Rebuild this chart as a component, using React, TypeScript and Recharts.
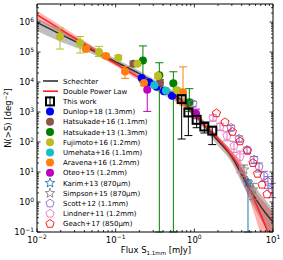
import React from "react";
import { ComposedChart, XAxis, YAxis, Area, Line, Scatter, ErrorBar } from "recharts";

const W = 283;
const H = 260;
const FONT = "DejaVu Sans, sans-serif";

// model curves
const curveFlux = [0.01, 0.02, 0.05, 0.1, 0.2, 0.4, 0.7, 1, 1.5, 2, 3, 4, 5, 6, 7, 8, 9, 10];
const schechterN = [9.7e5, 3.9e5, 1.17e5, 4.75e4, 1.9e4, 6.5e3, 2.4e3, 880, 257, 110, 32, 8.1, 2.8, 1.29, 0.7, 0.44, 0.3, 0.22];
const schechterLo = [5.0e5, 2.2e5, 8.8e4, 3.8e4, 1.5e4, 5.1e3, 1.75e3, 650, 190, 75, 20, 4.4, 1.4, 0.55, 0.26, 0.14, 0.08, 0.06];
const schechterHi = [1.3e6, 5.5e5, 1.6e5, 6.0e4, 2.4e4, 8.1e3, 3.2e3, 1.2e3, 350, 150, 48, 14, 5.5, 3.0, 1.8, 1.2, 0.8, 0.55];
const dplN = [1.75e6, 5.7e5, 1.28e5, 4.1e4, 1.37e4, 4.75e3, 2.0e3, 880, 277, 129, 35, 11, 3.0, 0.95, 0.38, 0.16, 0.07, 0.03];
const dplLo = [1.2e6, 4.4e5, 1.02e5, 3.4e4, 1.1e4, 3.8e3, 1.6e3, 700, 220, 103, 24, 5.5, 1.2, 0.3, 0.08, 0.04, 0.02, 0.01];
const dplHi = [2.4e6, 7.5e5, 1.6e5, 4.9e4, 1.7e4, 6.0e3, 2.6e3, 1.1e3, 350, 162, 51, 20, 5.0, 2.2, 1.3, 0.9, 0.6, 0.45];

// number counts
const thisWorkFlux = [0.69, 0.84, 1.07, 1.34, 1.69];
const thisWorkN = [2700, 970, 550, 330, 240];
const thisWorkLo = [126, 164, 300, 200, 82];
const thisWorkHi = [3500, 1250, 700, 420, 320];

const dunlopFlux = [0.214, 0.265, 0.33, 0.41, 0.52];
const dunlopN = [1.36e4, 9.8e3, 7.0e3, 4.9e3, 3.5e3];

const hatsu16Flux = [0.168, 0.366];
const hatsu16N = [4.1e4, 9.7e3];
const hatsu16Lo = [3.3e4, 7.8e3];
const hatsu16Hi = [5.0e4, 1.2e4];

const hatsu13Flux = [0.222, 0.359, 0.541, 0.863];
const hatsu13N = [5.2e4, 1.7e4, 9.1e3, 2.1e3];
const hatsu13Lo = [1.0e4, 0.1, 0.1, 1.05e3];
const hatsu13Hi = [1.6e5, 4.4e4, 2.2e4, 6.0e3];

const fujimotoFlux = [0.0196, 0.0353, 0.0614, 0.108, 0.189, 0.345, 0.603];
const fujimotoN = [3.3e5, 2.0e5, 1.0e5, 6.5e4, 4.1e4, 1.6e4, 5.3e3];
const fujimotoLo = [1.26e5, 9.3e4, 7.1e4, 5.5e4, 3.5e4, 1.3e4, 4.5e3];
const fujimotoHi = [6.3e5, 3.3e5, 1.55e5, 7.6e4, 4.8e4, 1.95e4, 6.2e3];

const umehataFlux = [0.31, 0.436];
const umehataN = [7.8e3, 5.1e3];

const aravenaFlux = [0.042, 0.0753, 0.1316, 0.229, 0.718];
const aravenaN = [1.26e5, 7.4e4, 2.25e4, 9.3e3, 4.6e3];
const aravenaLo = [1.1e5, 6.5e4, 1.33e4, 7.5e3, 1.7e3];
const aravenaHi = [1.45e5, 8.5e4, 3.3e4, 1.15e4, 3.2e4];

const oteoFlux = [0.252, 1.05];
const oteoN = [5.5e3, 900];
const oteoLo = [1.05e3, 600];
const oteoHi = [1.0e4, 1.25e3];

const karimFlux = [4.81];
const karimN = [4.4];
const karimLo = [0.1];
const karimHi = [5.5];

const simpsonFlux = [4.28, 5.57];
const simpsonN = [12, 2.6];
const simpsonLo = [7, 1.2];
const simpsonHi = [17, 4.2];

const scottFlux = [0.96, 2.92, 3.7, 4.67, 5.73, 6.64, 7.68, 8.63, 9.7];
const scottN = [1900, 300, 129, 55, 26, 15, 7.5, 4.75, 2.6];
const scottLo = [1500, 240, 100, 42, 19, 10, 4.8, 2.8, 1.4];
const scottHi = [2300, 360, 160, 68, 33, 20, 10.5, 7, 4.2];

const lindnerFlux = [1.73, 2.12, 2.6, 3.19, 3.8];
const lindnerN = [646, 324, 162, 75, 32];
const lindnerLo = [500, 240, 110, 45, 9.5];
const lindnerHi = [800, 420, 220, 105, 50];

const geachFlux = [1.91, 2.45, 3.05, 3.8, 4.74, 5.57, 6.35, 7.24, 8.39];
const geachN = [912, 457, 220, 106, 51, 20, 8.8, 3.8, 1.8];

// axis ticks
const xDecades = [-2, -1, 0, 1];
const yDecades = [-1, 0, 1, 2, 3, 4, 5, 6];
const minorSteps = [2, 3, 4, 5, 6, 7, 8, 9];

const buildTicks = (decades: number[], max: number) => {
  const out: number[] = [];
  decades.forEach((d) => {
    const base = Math.pow(10, d);
    out.push(base);
    minorSteps.forEach((m) => {
      if (m * base < max * 0.999) out.push(m * base);
    });
  });
  return out;
};
const xTicks = buildTicks(xDecades, 10);
const yTicks = buildTicks(yDecades, 4e6);

const curveData = curveFlux.map((f, i) => ({
  flux: f,
  sch: schechterN[i],
  schBand: [schechterLo[i], schechterHi[i]],
  dpl: dplN[i],
  dplBand: [dplLo[i], dplHi[i]],
}));

const toPoints = (flux: number[], n: number[], lo?: number[], hi?: number[]) =>
  flux.map((f, i) => ({
    flux: f,
    n: n[i],
    err: [lo ? n[i] - lo[i] : 0, hi ? hi[i] - n[i] : 0],
  }));

const starPath = (cx: number, cy: number, R: number, r: number) => {
  let d = "";
  for (let i = 0; i < 10; i++) {
    const rad = i % 2 === 0 ? R : r;
    const a = -Math.PI / 2 + (i * Math.PI) / 5;
    d += (i ? "L" : "M") + (cx + rad * Math.cos(a)).toFixed(2) + "," + (cy + rad * Math.sin(a)).toFixed(2);
  }
  return d + "Z";
};

const pentaPath = (cx: number, cy: number, R: number) => {
  let d = "";
  for (let i = 0; i < 5; i++) {
    const a = -Math.PI / 2 + (i * 2 * Math.PI) / 5;
    d += (i ? "L" : "M") + (cx + R * Math.cos(a)).toFixed(2) + "," + (cy + R * Math.sin(a)).toFixed(2);
  }
  return d + "Z";
};

function Marker({ kind, color, cx, cy }: any) {
  if (cx == null || cy == null) return null;
  switch (kind) {
    case "square":
      return <rect x={cx - 4} y={cy - 4} width={8} height={8} fill="none" stroke={color} strokeWidth={2} />;
    case "star":
      return <path d={starPath(cx, cy, 5, 2.1)} fill="none" stroke={color} strokeWidth={0.9} />;
    case "pentagon":
      return <path d={pentaPath(cx, cy, 4.3)} fill="none" stroke={color} strokeWidth={0.9} />;
    default:
      return <circle cx={cx} cy={cy} r={4} fill={color} />;
  }
}

const series = [
  { name: "This work", kind: "square", color: "#000000", data: toPoints(thisWorkFlux, thisWorkN, thisWorkLo, thisWorkHi), err: true },
  { name: "Dunlop+18 (1.3mm)", kind: "circle", color: "#0000ff", data: toPoints(dunlopFlux, dunlopN), err: false },
  { name: "Hatsukade+16 (1.1mm)", kind: "circle", color: "#8c564b", data: toPoints(hatsu16Flux, hatsu16N, hatsu16Lo, hatsu16Hi), err: true },
  { name: "Hatsukade+13 (1.3mm)", kind: "circle", color: "#008000", data: toPoints(hatsu13Flux, hatsu13N, hatsu13Lo, hatsu13Hi), err: true },
  { name: "Fujimoto+16 (1.2mm)", kind: "circle", color: "#bcbd22", data: toPoints(fujimotoFlux, fujimotoN, fujimotoLo, fujimotoHi), err: true },
  { name: "Umehata+16 (1.1mm)", kind: "circle", color: "#17becf", data: toPoints(umehataFlux, umehataN), err: false },
  { name: "Aravena+16 (1.2mm)", kind: "circle", color: "#ff7f0e", data: toPoints(aravenaFlux, aravenaN, aravenaLo, aravenaHi), err: true },
  { name: "Oteo+15 (1.2mm)", kind: "circle", color: "#bf00bf", data: toPoints(oteoFlux, oteoN, oteoLo, oteoHi), err: true },
  { name: "Karim+13 (870\u03bcm)", kind: "star", color: "#1f77b4", data: toPoints(karimFlux, karimN, karimLo, karimHi), err: true },
  { name: "Simpson+15 (870\u03bcm)", kind: "star", color: "#808080", data: toPoints(simpsonFlux, simpsonN, simpsonLo, simpsonHi), err: true },
  { name: "Scott+12 (1.1mm)", kind: "pentagon", color: "#9467bd", data: toPoints(scottFlux, scottN, scottLo, scottHi), err: true },
  { name: "Lindner+11 (1.2mm)", kind: "pentagon", color: "#e377c2", data: toPoints(lindnerFlux, lindnerN, lindnerLo, lindnerHi), err: true },
  { name: "Geach+17 (850\u03bcm)", kind: "pentagon", color: "#ff0000", data: toPoints(geachFlux, geachN), err: false },
];
// draw "This work" last so it sits on top
const drawOrder = [...series.slice(1), series[0]];

const SCH_COLOR = "#333333";
const DPL_COLOR = "#ff2020";

const isMajor = (v: number) => Math.abs(Math.log10(v) - Math.round(Math.log10(v))) < 1e-6;
const expText = (v: number) => {
  const e = Math.round(Math.log10(v));
  return e < 0 ? "\u2212" + Math.abs(e) : String(e);
};

const TickLabel = ({ x, y, v, anchor }: any) => (
  <text x={x} y={y} textAnchor={anchor} fontSize={8.5} fontFamily={FONT} fill="#000">
    10
    <tspan dy={-3.6} fontSize={6}>
      {expText(v)}
    </tspan>
  </text>
);

const BottomTick = ({ x, y, payload }: any) => {
  const major = isMajor(payload.value);
  return (
    <g>
      <line x1={x} x2={x} y1={y} y2={y - (major ? 3.5 : 2)} stroke="#000" strokeWidth={0.8} />
      {major && <TickLabel x={x} y={y + 10.5} v={payload.value} anchor="middle" />}
    </g>
  );
};
const TopTick = ({ x, y, payload }: any) => (
  <line x1={x} x2={x} y1={y} y2={y + (isMajor(payload.value) ? 3.5 : 2)} stroke="#000" strokeWidth={0.8} />
);
const LeftTick = ({ x, y, payload }: any) => {
  const major = isMajor(payload.value);
  return (
    <g>
      <line x1={x} x2={x + (major ? 3.5 : 2)} y1={y} y2={y} stroke="#000" strokeWidth={0.8} />
      {major && <TickLabel x={x - 3} y={y + 3.2} v={payload.value} anchor="end" />}
    </g>
  );
};
const RightTick = ({ x, y, payload }: any) => (
  <line x1={x} x2={x - (isMajor(payload.value) ? 3.5 : 2)} y1={y} y2={y} stroke="#000" strokeWidth={0.8} />
);

const XTitle = () => (
  <text x={156} y={253} textAnchor="middle" fontSize={8.5} fontFamily={FONT} fill="#000">
    Flux S
    <tspan dy={2} fontSize={5.5}>
      1.1mm
    </tspan>
    <tspan dy={-2}> [mJy]</tspan>
  </text>
);
const YTitle = () => (
  <text x={11} y={118} textAnchor="middle" fontSize={8.5} fontFamily={FONT} fill="#000" transform="rotate(-90 11 118)">
    N(&gt;S) [deg
    <tspan dy={-3.5} fontSize={6}>
      {"\u22122"}
    </tspan>
    <tspan dy={3.5}>]</tspan>
  </text>
);

function LegendBox() {
  const rows = [
    { name: "Schechter", kind: "line", color: SCH_COLOR },
    { name: "Double Power Law", kind: "line", color: DPL_COLOR },
    ...series.map((s) => ({ name: s.name, kind: s.kind, color: s.color })),
  ];
  const step = 10.2;
  return (
    <svg width={120} height={158} style={{ position: "absolute", left: 40, top: 75 }}>
      {rows.map((r, i) => {
        const cy = 6 + i * step;
        return (
          <g key={r.name}>
            {r.kind === "line" ? (
              <line x1={3} x2={18} y1={cy} y2={cy} stroke={r.color} strokeWidth={1.6} />
            ) : (
              <g>
                {r.kind === "square" && <line x1={10} x2={10} y1={cy - 5} y2={cy + 5} stroke="#000" strokeWidth={1} />}
                <Marker kind={r.kind} color={r.color} cx={10} cy={cy} />
              </g>
            )}
            <text x={23} y={cy + 2.5} fontSize={7} fontFamily={FONT} fill="#000">
              {r.name}
            </text>
          </g>
        );
      })}
    </svg>
  );
}

export default function App() {
  return (
    <div style={{ position: "absolute", left: 0, top: 0, width: W, height: H, background: "#fff" }}>
      <ComposedChart width={W} height={H} margin={{ top: 0, right: 0, bottom: 0, left: 0 }}>
        <XAxis
          dataKey="flux"
          type="number"
          scale="log"
          domain={[0.01, 10]}
          allowDataOverflow
          ticks={xTicks}
          interval={0}
          tick={(p: any) => <BottomTick {...p} />}
          tickLine={false}
          tickSize={0}
          tickMargin={0}
          height={28}
          axisLine={{ stroke: "#000" }}
          label={<XTitle />}
        />
        <XAxis
          xAxisId="top"
          orientation="top"
          dataKey="flux"
          type="number"
          scale="log"
          domain={[0.01, 10]}
          allowDataOverflow
          ticks={xTicks}
          interval={0}
          tick={(p: any) => <TopTick {...p} />}
          tickLine={false}
          tickSize={0}
          tickMargin={0}
          height={4}
          axisLine={{ stroke: "#000" }}
        />
        <YAxis
          dataKey="n"
          type="number"
          scale="log"
          domain={[0.1, 4e6]}
          allowDataOverflow
          ticks={yTicks}
          interval={0}
          tick={(p: any) => <LeftTick {...p} />}
          tickLine={false}
          tickSize={0}
          tickMargin={0}
          width={37}
          axisLine={{ stroke: "#000" }}
          label={<YTitle />}
        />
        <YAxis
          yAxisId="right"
          orientation="right"
          type="number"
          scale="log"
          domain={[0.1, 4e6]}
          allowDataOverflow
          ticks={yTicks}
          interval={0}
          tick={(p: any) => <RightTick {...p} />}
          tickLine={false}
          tickSize={0}
          tickMargin={0}
          width={10}
          axisLine={{ stroke: "#000" }}
        />
        <Area data={curveData} dataKey="schBand" type="monotone" stroke="none" fill="#808080" fillOpacity={0.5} isAnimationActive={false} />
        <Area data={curveData} dataKey="dplBand" type="monotone" stroke="none" fill="#ff0000" fillOpacity={0.3} isAnimationActive={false} />
        <Line data={curveData} dataKey="sch" type="monotone" stroke={SCH_COLOR} strokeWidth={1.5} dot={false} isAnimationActive={false} />
        <Line data={curveData} dataKey="dpl" type="monotone" stroke={DPL_COLOR} strokeWidth={1.5} dot={false} isAnimationActive={false} />
        {drawOrder.map((s) => (
          <Scatter
            key={s.name}
            name={s.name}
            data={s.data}
            dataKey="n"
            isAnimationActive={false}
            shape={(p: any) => <Marker kind={s.kind} color={s.color} cx={p.cx} cy={p.cy} />}
          >
            {s.err && <ErrorBar dataKey="err" direction="y" width={4} stroke={s.color} strokeWidth={1} />}
          </Scatter>
        ))}
      </ComposedChart>
      <LegendBox />
    </div>
  );
}
